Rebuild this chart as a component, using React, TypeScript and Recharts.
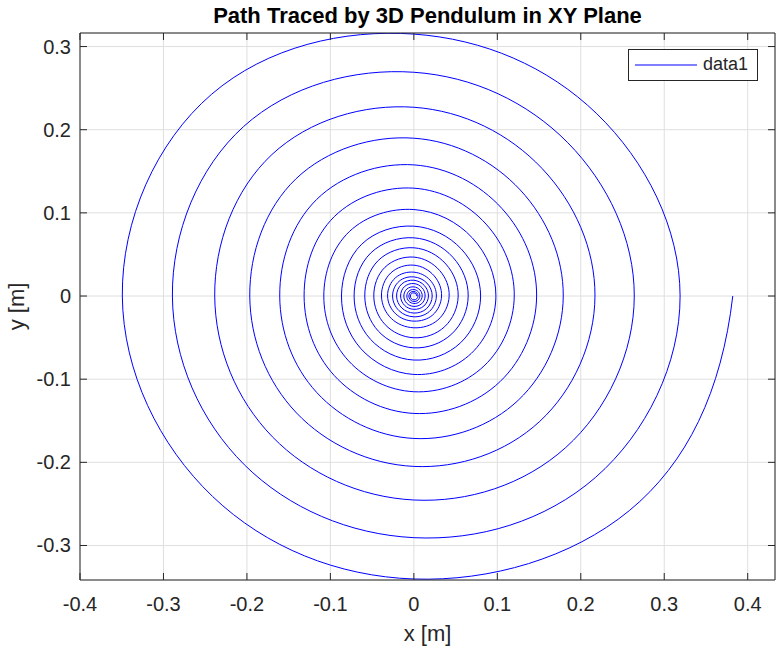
import React from 'react';
import { LineChart, Line, XAxis, YAxis, CartesianGrid, Label } from 'recharts';

const pathX: number[] = [
  0.3821, 0.2581, 0, -0.2411, -0.3493, -0.2425, 0, 0.2192,
  0.319, 0.2179, 0, -0.203, -0.2893, -0.2039, 0, 0.1844,
  0.2641, 0.1821, 0, -0.1694, -0.2386, -0.1701, 0, 0.1535,
  0.217, 0.1508, 0, -0.1406, -0.1966, -0.1411, 0, 0.1275,
  0.179, 0.1252, 0, -0.1162, -0.1607, -0.1163, 0, 0.1054,
  0.1471, 0.1031, 0, -0.0955, -0.1315, -0.0954, 0, 0.0865,
  0.1203, 0.0841, 0, -0.0781, -0.1079, -0.0774, 0, 0.07,
  0.0983, 0.0689, 0, -0.0634, -0.0867, -0.0624, 0, 0.0567,
  0.08, 0.0561, 0, -0.052, -0.0716, -0.0517, 0, 0.0467,
  0.0651, 0.0455, 0, -0.0424, -0.0588, -0.0427, 0, 0.0384,
  0.0531, 0.0369, 0, -0.0344, -0.048, -0.0346, 0, 0.0308,
  0.0423, 0.0288, 0, -0.027, -0.0388, -0.0277, 0, 0.0243,
  0.0332, 0.0227, 0, -0.0216, -0.0315, -0.022, 0, 0.0193,
  0.027, 0.0186, 0, -0.0177, -0.0255, -0.0177, 0, 0.0156,
  0.022, 0.0152, 0, -0.0144, -0.0207, -0.0145, 0, 0.0126,
  0.0175, 0.012, 0, -0.0112, -0.0159, -0.0113, 0, 0.0099,
  0.0135, 0.0093, 0, -0.0086, -0.012, -0.0084, 0, 0.0073,
  0.01, 0.0068, 0, -0.0061, -0.0084, -0.0059, 0, 0.0052,
  0.0072, 0.0049, 0, -0.0044, -0.006, -0.0042, 0, 0.0036,
  0.005, 0.0034, 0, -0.0031, -0.0042, -0.0029, 0, 0.0025,
  0.0035,
];
const pathY: number[] = [
  0, -0.2581, -0.3403, -0.2411, 0, 0.2425, 0.315, 0.2192,
  0, -0.2179, -0.2906, -0.203, 0, 0.2039, 0.2691, 0.1844,
  0, -0.1821, -0.2453, -0.1694, 0, 0.1701, 0.227, 0.1535,
  0, -0.1508, -0.2049, -0.1406, 0, 0.1411, 0.1898, 0.1275,
  0, -0.1252, -0.1713, -0.1162, 0, 0.1163, 0.1577, 0.1054,
  0, -0.1031, -0.1412, -0.0955, 0, 0.0954, 0.1297, 0.0865,
  0, -0.0841, -0.1151, -0.0781, 0, 0.0774, 0.104, 0.07,
  0, -0.0689, -0.0943, -0.0634, 0, 0.0624, 0.084, 0.0567,
  0, -0.0561, -0.077, -0.052, 0, 0.0517, 0.07, 0.0467,
  0, -0.0455, -0.0623, -0.0424, 0, 0.0427, 0.058, 0.0384,
  0, -0.0369, -0.0502, -0.0344, 0, 0.0346, 0.0468, 0.0308,
  0, -0.0288, -0.0382, -0.027, 0, 0.0277, 0.0371, 0.0243,
  0, -0.0227, -0.0302, -0.0216, 0, 0.022, 0.0287, 0.0193,
  0, -0.0186, -0.025, -0.0177, 0, 0.0177, 0.023, 0.0156,
  0, -0.0152, -0.0205, -0.0144, 0, 0.0145, 0.019, 0.0126,
  0, -0.012, -0.016, -0.0112, 0, 0.0113, 0.015, 0.0099,
  0, -0.0093, -0.0125, -0.0086, 0, 0.0084, 0.011, 0.0073,
  0, -0.0068, -0.009, -0.0061, 0, 0.0059, 0.0078, 0.0052,
  0, -0.0049, -0.0066, -0.0044, 0, 0.0042, 0.0055, 0.0036,
  0, -0.0034, -0.0046, -0.0031, 0, 0.0029, 0.0038, 0.0025,
  0,
];

const xTicks: number[] = [-0.4, -0.3, -0.2, -0.1, 0, 0.1, 0.2, 0.3, 0.4];
const yTicks: number[] = [-0.3, -0.2, -0.1, 0, 0.1, 0.2, 0.3];
const xDomain: [number, number] = [-0.4, 0.4327];
const yDomain: [number, number] = [-0.3415, 0.3163];

const titleText = 'Path Traced by 3D Pendulum in XY Plane';
const xLabelText = 'x [m]';
const yLabelText = 'y [m]';
const seriesName = 'data1';

const data = pathX.map((x, i) => ({ x, y: pathY[i] }));

const FONT = '"Liberation Sans", Arial, Helvetica, sans-serif';
const INK = '#262626';
const fmt = (v: number) => String(Math.round(v * 10) / 10);

// Cubic spline curve (uniform parameter) with parabolic run-out ends, for d3-shape line generator.
function solveSecondDerivs(v: number[]): number[] {
  const n = v.length;
  const M = new Array(n).fill(0);
  if (n < 3) return M;
  const m = n - 2;
  const a: number[] = [], b: number[] = [], c: number[] = [], r: number[] = [];
  for (let k = 0; k < m; k++) {
    const i = k + 1;
    a.push(1);
    b.push(4);
    c.push(1);
    r.push(6 * (v[i - 1] - 2 * v[i] + v[i + 1]));
  }
  b[0] += 1;
  b[m - 1] += 1;
  if (m === 1) b[0] = 6;
  for (let k = 1; k < m; k++) {
    const w = a[k] / b[k - 1];
    b[k] -= w * c[k - 1];
    r[k] -= w * r[k - 1];
  }
  const s = new Array(m).fill(0);
  s[m - 1] = r[m - 1] / b[m - 1];
  for (let k = m - 2; k >= 0; k--) s[k] = (r[k] - c[k] * s[k + 1]) / b[k];
  for (let k = 0; k < m; k++) M[k + 1] = s[k];
  M[0] = M[1];
  M[n - 1] = M[n - 2];
  return M;
}

const spiralCurve = (context: any) => {
  let xs: number[] = [];
  let ys: number[] = [];
  return {
    areaStart() {},
    areaEnd() {},
    lineStart() {
      xs = [];
      ys = [];
    },
    point(x: number, y: number) {
      xs.push(+x);
      ys.push(+y);
    },
    lineEnd() {
      const n = xs.length;
      if (!n) return;
      context.moveTo(xs[0], ys[0]);
      if (n === 1) return;
      if (n === 2) {
        context.lineTo(xs[1], ys[1]);
        return;
      }
      const Mx = solveSecondDerivs(xs);
      const My = solveSecondDerivs(ys);
      for (let i = 0; i < n - 1; i++) {
        const dx0 = xs[i + 1] - xs[i] - (2 * Mx[i] + Mx[i + 1]) / 6;
        const dy0 = ys[i + 1] - ys[i] - (2 * My[i] + My[i + 1]) / 6;
        const dx1 = xs[i + 1] - xs[i] + (Mx[i] + 2 * Mx[i + 1]) / 6;
        const dy1 = ys[i + 1] - ys[i] + (My[i] + 2 * My[i + 1]) / 6;
        context.bezierCurveTo(
          xs[i] + dx0 / 3,
          ys[i] + dy0 / 3,
          xs[i + 1] - dx1 / 3,
          ys[i + 1] - dy1 / 3,
          xs[i + 1],
          ys[i + 1]
        );
      }
    },
  };
};

const BottomTick = (p: any) => (
  <g>
    <line x1={p.x} x2={p.x} y1={p.y} y2={p.y - 7} stroke={INK} strokeWidth={1} />
    <text x={p.x} y={p.y + 31} textAnchor="middle" fontSize={20} fill={INK} fontFamily={FONT}>
      {fmt(p.payload.value)}
    </text>
  </g>
);
const TopTick = (p: any) => (
  <line x1={p.x} x2={p.x} y1={p.y} y2={p.y + 7} stroke={INK} strokeWidth={1} />
);
const LeftTick = (p: any) => (
  <g>
    <line x1={p.x} x2={p.x + 7} y1={p.y} y2={p.y} stroke={INK} strokeWidth={1} />
    <text x={p.x - 9} y={p.y + 7} textAnchor="end" fontSize={20} fill={INK} fontFamily={FONT}>
      {fmt(p.payload.value)}
    </text>
  </g>
);
const RightTick = (p: any) => (
  <line x1={p.x} x2={p.x - 7} y1={p.y} y2={p.y} stroke={INK} strokeWidth={1} />
);

const LegendBox = () => (
  <div
    style={{
      position: 'absolute',
      left: 628,
      top: 49,
      width: 128,
      height: 30,
      border: `1px solid ${INK}`,
      background: '#fff',
      fontFamily: FONT,
    }}
  >
    <svg width={70} height={30} style={{ position: 'absolute', left: 0, top: 0 }}>
      <line x1={6} x2={68} y1={15} y2={15} stroke="#0000ff" strokeWidth={1} />
    </svg>
    <div style={{ position: 'absolute', left: 74, top: 4, fontSize: 18, color: INK, lineHeight: '21px' }}>
      {seriesName}
    </div>
  </div>
);

export default function App() {
  return (
    <div style={{ position: 'absolute', left: 0, top: 0, width: 776, height: 648, background: '#fff' }}>
      <LineChart width={776} height={648} data={data} margin={{ top: 0, right: 0, bottom: 0, left: 0 }}>
        <CartesianGrid stroke="#dfdfdf" strokeWidth={1} />
        <XAxis
          type="number"
          dataKey="x"
          domain={xDomain}
          ticks={xTicks}
          allowDataOverflow
          height={68}
          axisLine={{ stroke: INK }}
          tickLine={false}
          tickSize={0}
          tickMargin={0}
          tick={<BottomTick />}
          interval={0}
        >
          <Label
            content={(lp: any) => {
              const vb = lp.viewBox || { x: 80, width: 695 };
              return (
                <text x={vb.x + vb.width / 2} y={641} textAnchor="middle" fontSize={22} fill={INK} fontFamily={FONT}>
                  {xLabelText}
                </text>
              );
            }}
          />
        </XAxis>
        <XAxis
          xAxisId="top"
          orientation="top"
          type="number"
          dataKey="x"
          domain={xDomain}
          ticks={xTicks}
          allowDataOverflow
          height={33}
          axisLine={{ stroke: INK }}
          tickLine={false}
          tickSize={0}
          tickMargin={0}
          tick={<TopTick />}
          interval={0}
        >
          <Label
            content={(lp: any) => {
              const vb = lp.viewBox || { x: 80, width: 695 };
              return (
                <text x={vb.x + vb.width / 2} y={23} textAnchor="middle" fontSize={22} fontWeight="bold" fill="#000" fontFamily={FONT}>
                  {titleText}
                </text>
              );
            }}
          />
        </XAxis>
        <YAxis
          type="number"
          dataKey="y"
          domain={yDomain}
          ticks={yTicks}
          allowDataOverflow
          width={80}
          axisLine={{ stroke: INK }}
          tickLine={false}
          tickSize={0}
          tickMargin={0}
          tick={<LeftTick />}
          interval={0}
        >
          <Label
            content={(lp: any) => {
              const vb = lp.viewBox || { y: 33, height: 547 };
              const cy = vb.y + vb.height / 2;
              return (
                <text x={24} y={cy} transform={`rotate(-90, 24, ${cy})`} textAnchor="middle" fontSize={22} fill={INK} fontFamily={FONT}>
                  {yLabelText}
                </text>
              );
            }}
          />
        </YAxis>
        <YAxis
          yAxisId="right"
          orientation="right"
          type="number"
          dataKey="y"
          domain={yDomain}
          ticks={yTicks}
          allowDataOverflow
          width={1}
          axisLine={{ stroke: INK }}
          tickLine={false}
          tickSize={0}
          tickMargin={0}
          tick={<RightTick />}
          interval={0}
        />
        <Line
          type={spiralCurve as any}
          dataKey="y"
          name={seriesName}
          stroke="#0000ff"
          strokeWidth={1}
          dot={false}
          isAnimationActive={false}
        />
      </LineChart>
      <LegendBox />
    </div>
  );
}
